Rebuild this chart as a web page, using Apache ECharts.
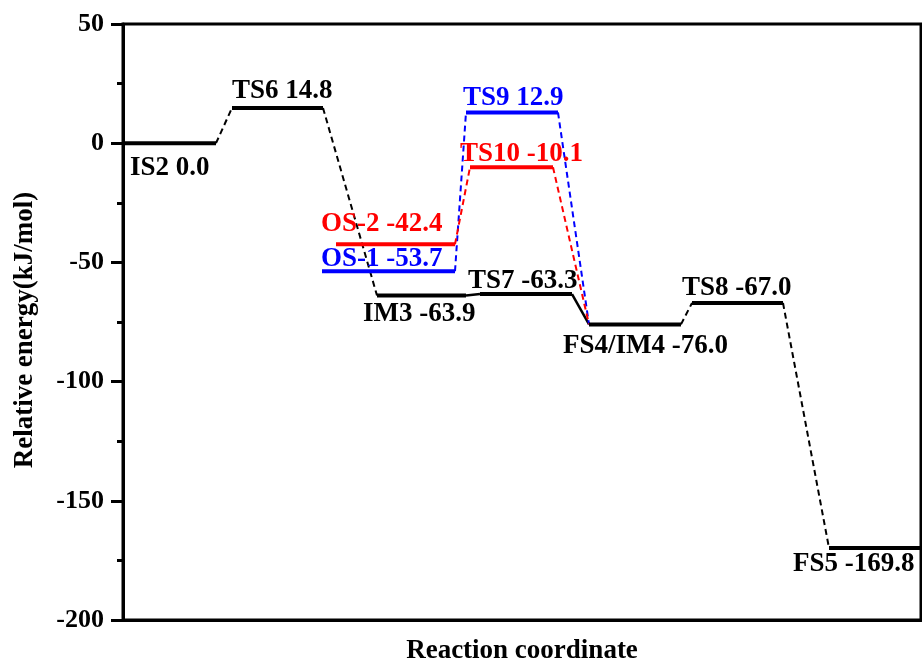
<!DOCTYPE html>
<html>
<head>
<meta charset="utf-8">
<script src="https://cdn.jsdelivr.net/npm/echarts@6/dist/echarts.min.js"></script>
<style>
  html, body { margin: 0; padding: 0; background: #fff; }
  #chart { width: 922px; height: 667px; }
</style>
</head>
<body>
<div id="chart"></div>
<script>
// 能级数据
var levelNames = ['IS2', 'TS6', 'IM3', 'TS7', 'FS4/IM4', 'TS8', 'FS5', 'OS-1', 'OS-2', 'TS9', 'TS10'];
var levelEnergy = [0.0, 14.8, -63.9, -63.3, -76.0, -67.0, -169.8, -53.7, -42.4, 12.9, -10.1];
var levelStart = [0, 109, 254, 357, 466, 569, 706, 199, 213, 343, 347];
var levelEnd = [93, 200, 343, 449, 558, 660, 798, 332, 332, 435, 430];
var levelColor = ['black', 'black', 'black', 'black', 'black', 'black', 'black', 'blue', 'red', 'blue', 'red'];

// 连接线: [起点, 终点, 是否虚线, 颜色]
var links = [
  [0, 1, true, 'black'],
  [1, 2, true, 'black'],
  [2, 3, false, 'black'],
  [3, 4, false, 'black'],
  [4, 5, true, 'black'],
  [5, 6, true, 'black'],
  [7, 9, true, 'blue'],
  [9, 4, true, 'blue'],
  [8, 10, true, 'red'],
  [10, 4, true, 'red']
];

// 标签相对能级起点的偏移(px)
var labelOffset = [[7, 25], [0, -17], [-14, 18], [-12, -13], [-26, 22], [-10, -15], [-36, 16],
  [-1, -12], [-15, -20], [-3, -14], [-10, -13]];

var yTicks = [-200, -150, -100, -50, 0, 50];

var colorMap = { black: '#000000', red: '#ff0000', blue: '#0000ff' };
var font = '"Liberation Serif", "Times New Roman", serif';

var series = [];

// 虚线/实线连接
links.forEach(function (l) {
  var a = l[0], b = l[1];
  series.push({
    type: 'line',
    symbol: 'none',
    silent: true,
    z: 2,
    lineStyle: {
      color: colorMap[l[3]],
      width: l[2] ? 2 : 2.5,
      type: l[2] ? [6, 4] : 'solid'
    },
    data: [[levelEnd[a], levelEnergy[a]], [levelStart[b], levelEnergy[b]]]
  });
});

// 能级水平线
levelNames.forEach(function (name, i) {
  series.push({
    type: 'line',
    symbol: 'none',
    silent: true,
    z: 3,
    lineStyle: { color: colorMap[levelColor[i]], width: 4 },
    data: [[levelStart[i], levelEnergy[i]], [levelEnd[i], levelEnergy[i]]]
  });
});

// 标签
series.push({
  type: 'scatter',
  symbolSize: 0,
  silent: true,
  z: 5,
  itemStyle: { opacity: 1 },
  data: levelNames.map(function (name, i) {
    return {
      value: [levelStart[i], levelEnergy[i]],
      label: {
        show: true,
        position: 'inside',
        align: 'left',
        verticalAlign: 'middle',
        offset: labelOffset[i],
        formatter: name + ' ' + levelEnergy[i].toFixed(1),
        color: colorMap[levelColor[i]],
        opacity: 1,
        fontFamily: font,
        fontWeight: 'bold',
        fontSize: 27
      }
    };
  })
});

var myChart = echarts.init(document.getElementById('chart'));
var option = {
  animation: false,
  grid: {
    left: 123,
    top: 24,
    right: 1,
    bottom: 47,
    containLabel: false,
    outerBoundsMode: 'none',
    show: true,
    borderColor: '#000',
    borderWidth: 3
  },
  xAxis: {
    type: 'value',
    min: 0,
    max: 798,
    name: 'Reaction coordinate',
    nameLocation: 'middle',
    nameGap: 18,
    nameTextStyle: { fontFamily: font, fontWeight: 'bold', fontSize: 27, color: '#000' },
    axisLine: { onZero: false, lineStyle: { color: '#000', width: 3 } },
    axisTick: { show: false },
    axisLabel: { show: false },
    splitLine: { show: false }
  },
  yAxis: {
    type: 'value',
    min: yTicks[0],
    max: yTicks[yTicks.length - 1],
    interval: 50,
    name: 'Relative energy(kJ/mol)',
    nameLocation: 'middle',
    nameGap: 84,
    nameTextStyle: { fontFamily: font, fontWeight: 'bold', fontSize: 27, color: '#000', padding: [0, 16, 0, 0] },
    axisLine: { show: true, onZero: false, lineStyle: { color: '#000', width: 3 } },
    axisTick: { show: true, inside: false, length: 12, lineStyle: { color: '#000', width: 3 } },
    minorTick: { show: true, splitNumber: 2, length: 6, lineStyle: { color: '#000', width: 3 } },
    axisLabel: { fontFamily: font, fontWeight: 'bold', fontSize: 26, color: '#000', margin: 19 },
    splitLine: { show: false }
  },
  series: series
};
myChart.setOption(option);
</script>
</body>
</html>
